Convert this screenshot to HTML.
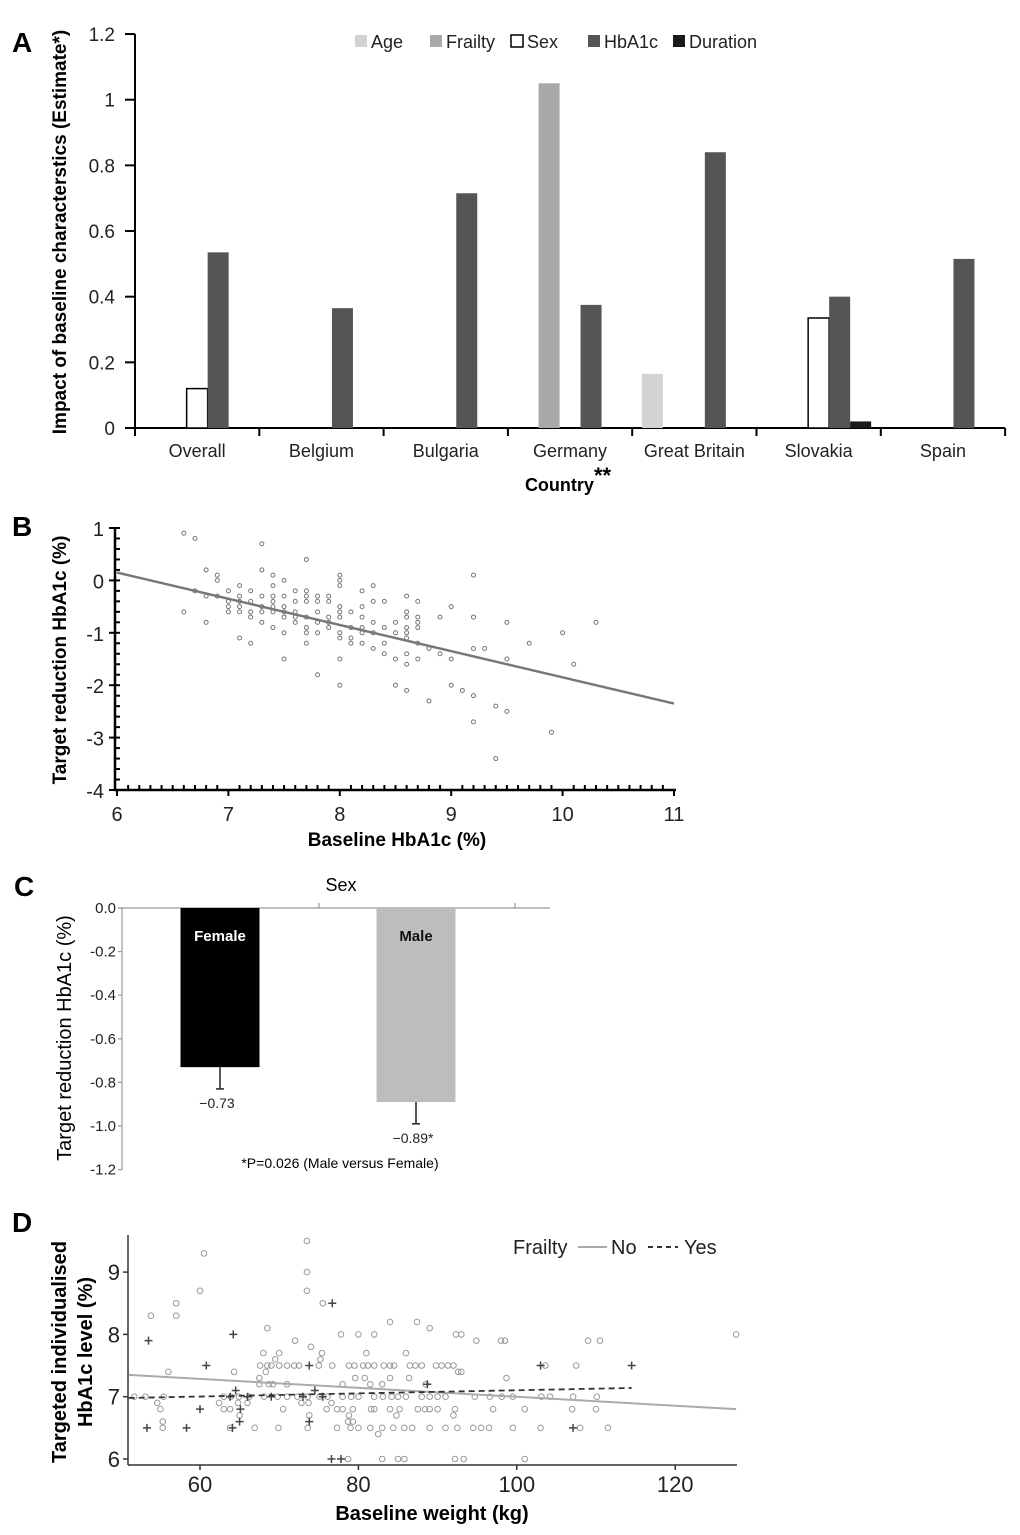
<!DOCTYPE html>
<html><head><meta charset="utf-8"><title>Figure</title>
<style>
html,body{margin:0;padding:0;background:#fff;}
svg{display:block;font-family:"Liberation Sans",Arial,sans-serif;}
</style></head>
<body>
<svg id="fig" width="1020" height="1535" viewBox="0 0 1020 1535" xmlns="http://www.w3.org/2000/svg">
<rect x="0" y="0" width="1020" height="1535" fill="#fff"/>
<text x="12" y="52" font-size="28" font-weight="bold">A</text>
<text x="12" y="536" font-size="28" font-weight="bold">B</text>
<text x="14" y="896" font-size="28" font-weight="bold">C</text>
<text x="12" y="1232" font-size="28" font-weight="bold">D</text>

<g id="pa"></g>
<text transform="translate(66,232) rotate(-90)" text-anchor="middle" font-size="19" font-weight="bold">Impact of baseline characterstics (Estimate*)</text>
<text x="568" y="491" text-anchor="middle" font-size="18" font-weight="bold">Country<tspan font-size="22" dy="-8">**</tspan></text>

<g id="pb"></g>
<text transform="translate(66,660) rotate(-90)" text-anchor="middle" font-size="19" font-weight="bold">Target  reduction HbA1c (%)</text>
<text x="397" y="846" text-anchor="middle" font-size="19" font-weight="bold">Baseline HbA1c (%)</text>

<g id="pc"></g>
<text x="341" y="891" text-anchor="middle" font-size="18">Sex</text>
<text transform="translate(71,1038) rotate(-90)" text-anchor="middle" font-size="20">Target reduction HbA1c  (%)</text>
<text x="340" y="1168" text-anchor="middle" font-size="14">*P=0.026 (Male versus Female)</text>

<g id="pd"></g>
<text transform="translate(66,1352) rotate(-90)" text-anchor="middle" font-size="20" font-weight="bold">Targeted individualised</text>
<text transform="translate(92,1352) rotate(-90)" text-anchor="middle" font-size="20" font-weight="bold">HbA1c level (%)</text>
<text x="432" y="1520" text-anchor="middle" font-size="20" font-weight="bold">Baseline weight (kg)</text>
<g>
  <text x="513" y="1254" font-size="20" fill="#222">Frailty</text>
  <line x1="578" y1="1247" x2="607" y2="1247" stroke="#aaa" stroke-width="2"/>
  <text x="611" y="1254" font-size="20" fill="#222">No</text>
  <line x1="648" y1="1247" x2="678" y2="1247" stroke="#333" stroke-width="2" stroke-dasharray="5,4"/>
  <text x="684" y="1254" font-size="20" fill="#222">Yes</text>
</g>
</svg>

<script>
const aCountries = ["Overall","Belgium","Bulgaria","Germany","Great Britain","Slovakia","Spain"];
const aSeries = ["Age","Frailty","Sex","HbA1c","Duration"];
const aAge      = [0,0,0,0,0.165,0,0];
const aFrailty  = [0,0,0,1.05,0,0,0];
const aSex      = [0.12,0,0,0,0,0.335,0];
const aHbA1c    = [0.535,0.365,0.715,0.375,0.84,0.40,0.515];
const aDuration = [0,0,0,0,0,0.02,0];
const aTicks = [0,0.2,0.4,0.6,0.8,1,1.2];
const aTickLabels = ["0","0.2","0.4","0.6","0.8","1","1.2"];

const bPoints = [[6.6,0.9],[6.6,-0.6],[6.7,0.8],[6.7,-0.2],[6.8,0.2],[6.8,-0.3],[6.8,-0.8],[6.9,0.1],[6.9,0],[6.9,-0.3],[7,-0.2],[7,-0.4],[7,-0.5],[7,-0.6],[7.1,-0.1],[7.1,-0.3],[7.1,-0.4],[7.1,-0.5],[7.1,-0.6],[7.1,-1.1],[7.2,-0.2],[7.2,-0.4],[7.2,-0.6],[7.2,-0.7],[7.2,-1.2],[7.3,0.7],[7.3,0.2],[7.3,-0.3],[7.3,-0.5],[7.3,-0.6],[7.3,-0.8],[7.4,0.1],[7.4,-0.1],[7.4,-0.3],[7.4,-0.4],[7.4,-0.5],[7.4,-0.6],[7.4,-0.9],[7.5,0],[7.5,-0.3],[7.5,-0.5],[7.5,-0.6],[7.5,-0.7],[7.5,-1],[7.5,-1.5],[7.6,-0.2],[7.6,-0.4],[7.6,-0.6],[7.6,-0.7],[7.6,-0.8],[7.7,0.4],[7.7,-0.2],[7.7,-0.3],[7.7,-0.4],[7.7,-0.7],[7.7,-0.9],[7.7,-1],[7.7,-1.2],[7.8,-0.3],[7.8,-0.4],[7.8,-0.6],[7.8,-0.8],[7.8,-1],[7.8,-1.8],[7.9,-0.3],[7.9,-0.4],[7.9,-0.7],[7.9,-0.8],[7.9,-0.9],[8,0.1],[8,0],[8,-0.1],[8,-0.5],[8,-0.6],[8,-0.7],[8,-1],[8,-1.1],[8,-1.5],[8,-2],[8.1,-0.6],[8.1,-0.9],[8.1,-1.1],[8.1,-1.2],[8.2,-0.2],[8.2,-0.5],[8.2,-0.7],[8.2,-0.9],[8.2,-1],[8.2,-1.2],[8.3,-0.1],[8.3,-0.4],[8.3,-0.8],[8.3,-1],[8.3,-1.3],[8.4,-0.4],[8.4,-0.9],[8.4,-1.2],[8.4,-1.4],[8.5,-0.8],[8.5,-1],[8.5,-1.5],[8.5,-2],[8.6,-0.3],[8.6,-0.6],[8.6,-0.7],[8.6,-0.9],[8.6,-1],[8.6,-1.1],[8.6,-1.4],[8.6,-1.6],[8.6,-2.1],[8.7,-0.4],[8.7,-0.7],[8.7,-0.8],[8.7,-0.9],[8.7,-1.2],[8.7,-1.5],[8.8,-1.3],[8.8,-2.3],[8.9,-0.7],[8.9,-1.4],[9,-0.5],[9,-1.5],[9,-2],[9.1,-2.1],[9.2,0.1],[9.2,-0.7],[9.2,-1.3],[9.2,-2.2],[9.2,-2.7],[9.3,-1.3],[9.4,-2.4],[9.4,-3.4],[9.5,-0.8],[9.5,-1.5],[9.5,-2.5],[9.7,-1.2],[9.9,-2.9],[10,-1],[10.1,-1.6],[10.3,-0.8]];
const bFitX = [6, 11];
const bFitY = [0.15, -2.35];
const bXTicks = [6,7,8,9,10,11];
const bYTicks = [1,0,-1,-2,-3,-4];

const cGroups = ["Female","Male"];
const cMeans = [-0.73,-0.89];
const cErrLow = [-0.83,-0.99];
const cValueLabels = ["\u22120.73","\u22120.89*"];
const cTicks = [0,-0.2,-0.4,-0.6,-0.8,-1.0,-1.2];
const cTickLabels = ["0.0","-0.2","-0.4","-0.6","-0.8","-1.0","-1.2"];

const dNoFrailty = [[73.5,9.5],[60.5,9.3],[73.5,9.0],[60,8.7],[73.5,8.7],[57,8.5],[75.5,8.5],[53.8,8.3],[57,8.3],[84,8.2],[87.4,8.2],[68.5,8.1],[89,8.1],[77.8,8.0],[80,8.0],[82,8.0],[92.3,8.0],[93,8.0],[127.7,8.0],[72,7.9],[94.9,7.9],[98,7.9],[98.5,7.9],[109,7.9],[110.5,7.9],[74,7.8],[68,7.7],[70,7.7],[75.4,7.7],[81,7.7],[86,7.7],[69.5,7.6],[75.2,7.6],[67.6,7.5],[68.5,7.5],[69,7.5],[70,7.5],[71,7.5],[71.9,7.5],[72.5,7.5],[75,7.5],[76.7,7.5],[78.8,7.5],[79.5,7.5],[80.6,7.5],[81.2,7.5],[82,7.5],[83.2,7.5],[84,7.5],[84.5,7.5],[86.5,7.5],[87.2,7.5],[88,7.5],[89.8,7.5],[90.5,7.5],[91.3,7.5],[92,7.5],[103.6,7.5],[107.5,7.5],[56,7.4],[64.3,7.4],[68.3,7.4],[92.6,7.4],[93,7.4],[67.5,7.3],[79.6,7.3],[80.8,7.3],[84,7.3],[86.4,7.3],[98.7,7.3],[67.5,7.2],[68.7,7.2],[69.2,7.2],[71,7.2],[78,7.2],[81.5,7.2],[83,7.2],[88.5,7.2],[51.7,7.0],[53.1,7.0],[55.4,7.0],[63,7.0],[63.9,7.0],[64.9,7.0],[66.2,7.0],[68.1,7.0],[69.8,7.0],[71,7.0],[72.3,7.0],[73.6,7.0],[75.1,7.0],[76.1,7.0],[78,7.0],[79.1,7.0],[80,7.0],[82,7.0],[83.1,7.0],[84.2,7.0],[85,7.0],[86,7.0],[88,7.0],[89,7.0],[90,7.0],[91,7.0],[94.7,7.0],[96.6,7.0],[98.1,7.0],[99.5,7.0],[103.1,7.0],[104.2,7.0],[107.1,7.0],[110.1,7.0],[54.6,6.9],[62.4,6.9],[64.8,6.9],[66,6.9],[72.8,6.9],[73.7,6.9],[76.6,6.9],[55,6.8],[63,6.8],[63.8,6.8],[70.5,6.8],[76,6.8],[77.3,6.8],[78,6.8],[79.3,6.8],[81.6,6.8],[82,6.8],[84,6.8],[85.2,6.8],[87.5,6.8],[88.4,6.8],[89,6.8],[90,6.8],[92.2,6.8],[97,6.8],[101,6.8],[107,6.8],[110,6.8],[65,6.7],[73.8,6.7],[78.8,6.7],[84.8,6.7],[92,6.7],[55.3,6.6],[78.7,6.6],[79.3,6.6],[55.3,6.5],[63.8,6.5],[66.9,6.5],[69.9,6.5],[73.6,6.5],[77.3,6.5],[79,6.5],[80,6.5],[81.5,6.5],[83,6.5],[84.4,6.5],[85.8,6.5],[86.8,6.5],[89,6.5],[91,6.5],[92.5,6.5],[94.5,6.5],[95.5,6.5],[96.5,6.5],[99.5,6.5],[103,6.5],[108,6.5],[111.5,6.5],[82.5,6.4],[78.7,6.0],[83,6.0],[85,6.0],[85.8,6.0],[92.2,6.0],[93.3,6.0],[101,6.0]];
const dFrailty = [[53.5,7.9],[53.3,6.5],[60.8,7.5],[58.3,6.5],[60,6.8],[64.2,8.0],[64.5,7.1],[64.1,6.5],[65,6.6],[65.1,6.8],[63.8,7.0],[66,7.0],[69,7.0],[73,7.0],[73.8,7.5],[73.8,6.6],[74.5,7.1],[75.5,7.0],[76.7,8.5],[76.6,6.0],[77.8,6.0],[88.7,7.2],[103,7.5],[107.1,6.5],[114.5,7.5]];
const dFitNoX = [51, 127.7];
const dFitNoY = [7.35, 6.80];
const dFitYesX = [51, 114.5];
const dFitYesY = [6.98, 7.14];
const dXTicks = [60,80,100,120];
const dYTicks = [6,7,8,9];

const NS = "http://www.w3.org/2000/svg";
function mk(parent, tag, attrs, text){
  const e = document.createElementNS(NS, tag);
  for (const k in attrs) e.setAttribute(k, attrs[k]);
  if (text !== undefined) e.textContent = text;
  parent.appendChild(e);
  return e;
}

(function(){
  const g = document.getElementById('pa');
  const x0 = 135, catW = 124.3, barW = 21;
  const yA = v => 428 - v * 328.3;
  const colors = ["#d3d3d3","#a9a9a9","#ffffff","#555555","#1a1a1a"];
  const series = [aAge, aFrailty, aSex, aHbA1c, aDuration];
  let e = mk(g,'line',{x1:x0,y1:34,x2:x0,y2:428,stroke:'#000','stroke-width':2});
  
  
  e = mk(g,'line',{x1:125,y1:428,x2:1005,y2:428,stroke:'#000','stroke-width':2});
  
  
  aTicks.forEach((t,i)=>{
    const y = yA(t);
    const tk = mk(g,'line',{x1:125,y1:y,x2:x0,y2:y,stroke:'#000','stroke-width':2});
    
    
    const lb = mk(g,'text',{x:115,y:y+7,'text-anchor':'end','font-size':19,fill:'#222'},aTickLabels[i]);
    
    
  });
  for (let i=0;i<=aCountries.length;i++){
    const x = x0 + i*catW;
    const tk = mk(g,'line',{x1:x,y1:428,x2:x,y2:436,stroke:'#000','stroke-width':2});
    
    
  }
  aCountries.forEach((c,i)=>{
    const cx = x0 + (i+0.5)*catW;
    const lb = mk(g,'text',{x:cx,y:457,'text-anchor':'middle','font-size':18,fill:'#222'},c);
    
    
    series.forEach((s,j)=>{
      const v = s[i];
      if (!v) return;
      const bx = cx - 2.5*barW + j*barW;
      const r = mk(g,'rect',{x:bx,y:yA(v),width:barW,height:428-yA(v),fill:colors[j],stroke:j===2?'#000':'none','stroke-width':j===2?1.5:0});
      
      
    });
  });
  const lx = [355,430,511,588,673];
  aSeries.forEach((s,j)=>{
    const r = mk(g,'rect',{x:lx[j],y:35,width:12,height:12,fill:colors[j],stroke:j===2?'#000':'none','stroke-width':1.5});
    
    
    const t = mk(g,'text',{x:lx[j]+16,y:48,'font-size':18,fill:'#222'},s);
    
    
  });
})();

(function(){
  const g = document.getElementById('pb');
  const xB = v => 117 + (v-6)*111.4;
  const yB = v => 580.4 - v*52.4;
  let e = mk(g,'line',{x1:115,y1:527,x2:115,y2:791,stroke:'#000','stroke-width':2.5});
  
  
  e = mk(g,'line',{x1:114,y1:790,x2:xB(11)+2,y2:790,stroke:'#000','stroke-width':2.5});
  
  
  for (let k=0;k<=50;k++){
    const x = xB(6 + k*0.1);
    const major = k%10===0;
    const tk = mk(g,'line',{x1:x,y1:major?796:790,x2:x,y2:major?790:785,stroke:'#000','stroke-width':2});
    
    
  }
  for (let k=0;k<=25;k++){
    const y = yB(1 - k*0.2);
    const major = k%5===0;
    const tk = mk(g,'line',{x1:major?109:115,y1:y,x2:120,y2:y,stroke:'#000','stroke-width':2});
    
    
  }
  bXTicks.forEach(t=>{
    const lb = mk(g,'text',{x:xB(t),y:821,'text-anchor':'middle','font-size':20,fill:'#222'},String(t));
    
    
  });
  bYTicks.forEach(t=>{
    const lb = mk(g,'text',{x:104,y:yB(t)+8,'text-anchor':'end','font-size':20,fill:'#222'},String(t));
    
    
  });
  bPoints.forEach(p=>{
    const c = mk(g,'circle',{cx:xB(p[0]),cy:yB(p[1]),r:2,fill:'none',stroke:'#777','stroke-width':1});
    
    
  });
  const l = mk(g,'line',{x1:xB(bFitX[0]),y1:yB(bFitY[0]),x2:xB(bFitX[1]),y2:yB(bFitY[1]),stroke:'#777','stroke-width':2.5});
  
  
})();

(function(){
  const g = document.getElementById('pc');
  const yC = v => 908 - v*218;
  const centers = [220,416], bw = 79;
  const fills = ["#000000","#bdbdbd"];
  const tcol = ["#ffffff","#111111"];
  let e = mk(g,'line',{x1:122,y1:908,x2:122,y2:1170,stroke:'#999','stroke-width':1.2});
  
  
  e = mk(g,'line',{x1:118,y1:908,x2:550,y2:908,stroke:'#999','stroke-width':1.2});
  
  
  [319,515].forEach(x=>{
    const tk = mk(g,'line',{x1:x,y1:908,x2:x,y2:903,stroke:'#999','stroke-width':1.2});
    
    
  });
  cTicks.forEach((t,i)=>{
    const y = yC(t);
    const tk = mk(g,'line',{x1:118,y1:y,x2:122,y2:y,stroke:'#999','stroke-width':1.2});
    
    
    const lb = mk(g,'text',{x:116,y:y+5,'text-anchor':'end','font-size':15,fill:'#222'},cTickLabels[i]);
    
    
  });
  cGroups.forEach((gname,i)=>{
    const cx = centers[i];
    const r = mk(g,'rect',{x:cx-bw/2,y:908,width:bw,height:yC(cMeans[i])-908,fill:fills[i]});
    
    
    const eb = mk(g,'line',{x1:cx,y1:yC(cMeans[i]),x2:cx,y2:yC(cErrLow[i]),stroke:'#222','stroke-width':1.5});
    
    
    const cap = mk(g,'line',{x1:cx-4,y1:yC(cErrLow[i]),x2:cx+4,y2:yC(cErrLow[i]),stroke:'#222','stroke-width':1.5});
    
    
    const t = mk(g,'text',{x:cx,y:941,'text-anchor':'middle','font-size':15,'font-weight':'bold',fill:tcol[i]},gname);
    
    
    const v = mk(g,'text',{x:cx-3,y:yC(cErrLow[i])+19,'text-anchor':'middle','font-size':14,fill:'#222'},cValueLabels[i]);
    
    
  });
})();

(function(){
  const g = document.getElementById('pd');
  const xD = v => 200 + (v-60)*7.92;
  const yD = v => 1396.7 - (v-7)*62.3;
  let e = mk(g,'line',{x1:128,y1:1235,x2:128,y2:1465,stroke:'#333','stroke-width':1.5});
  
  
  e = mk(g,'line',{x1:128,y1:1465,x2:737,y2:1465,stroke:'#333','stroke-width':1.5});
  
  
  dXTicks.forEach(t=>{
    const tk = mk(g,'line',{x1:xD(t),y1:1465,x2:xD(t),y2:1470,stroke:'#333','stroke-width':1.5});
    
    
    const lb = mk(g,'text',{x:xD(t),y:1492,'text-anchor':'middle','font-size':22,fill:'#222'},String(t));
    
    
  });
  dYTicks.forEach(t=>{
    const tk = mk(g,'line',{x1:123,y1:yD(t),x2:128,y2:yD(t),stroke:'#333','stroke-width':1.5});
    
    
    const lb = mk(g,'text',{x:120,y:yD(t)+8,'text-anchor':'end','font-size':22,fill:'#222'},String(t));
    
    
  });
  dNoFrailty.forEach(p=>{
    const c = mk(g,'circle',{cx:xD(p[0]),cy:yD(p[1]),r:2.8,fill:'none',stroke:'#999','stroke-width':1});
    
    
  });
  dFrailty.forEach(p=>{
    const x = xD(p[0]), y = yD(p[1]);
    const pl = mk(g,'path',{d:`M${x-4},${y}H${x+4}M${x},${y-4}V${y+4}`,stroke:'#444','stroke-width':1.5,fill:'none'});
    
    
  });
  const l1 = mk(g,'line',{x1:xD(dFitNoX[0]),y1:yD(dFitNoY[0]),x2:xD(dFitNoX[1]),y2:yD(dFitNoY[1]),stroke:'#aaa','stroke-width':2});
  
  
  const l2 = mk(g,'line',{x1:xD(dFitYesX[0]),y1:yD(dFitYesY[0]),x2:xD(dFitYesX[1]),y2:yD(dFitYesY[1]),stroke:'#333','stroke-width':1.8,'stroke-dasharray':'6,4'});
  
  
})();
</script>
</body></html>
